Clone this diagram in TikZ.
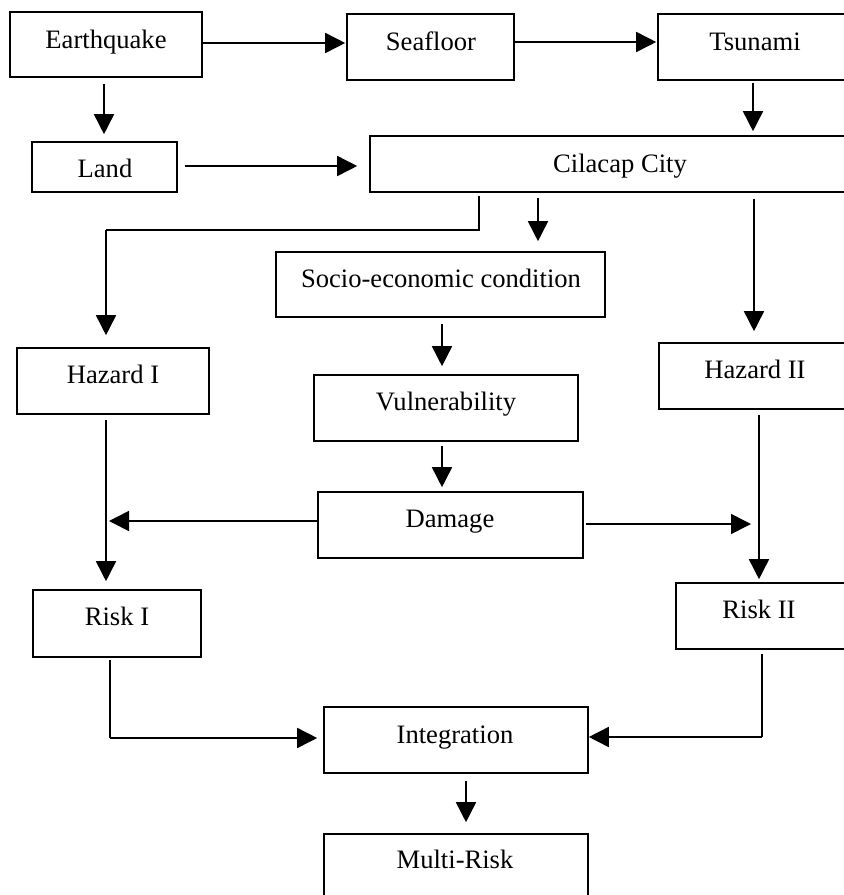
\documentclass[tikz,border=0pt]{standalone}
\usepackage{fontspec}
\setmainfont{Liberation Serif}
\usetikzlibrary{arrows.meta,fit}
\begin{document}
\begin{tikzpicture}[x=0.5pt,y=-0.5pt,
  box/.style={draw=black,line width=0.8pt,inner sep=0pt,fill=none},
  txt/.style={anchor=base,inner sep=0pt,font=\fontsize{13.3pt}{16pt}\selectfont},
  arr/.style={draw=black,line width=0.8pt,-{Triangle[length=10pt,width=10pt]}},
  ln/.style={draw=black,line width=0.8pt}]
\useasboundingbox (0,0) rectangle (843,895);
% boxes
\node[box,fit={(10,12) (202,77)}] (eq) {};
\node[box,fit={(347,14) (514,80)}] (sea) {};
\node[box,fit={(658,14) (848,80)}] (tsu) {};
\node[box,fit={(32,142) (177,192)}] (land) {};
\node[box,fit={(370,136) (870,192)}] (city) {};
\node[box,fit={(276,252) (605,317)}] (socio) {};
\node[box,fit={(17,348) (209,414)}] (haz1) {};
\node[box,fit={(659,343) (870,409)}] (haz2) {};
\node[box,fit={(314,375) (578,441)}] (vul) {};
\node[box,fit={(318,492) (583,558)}] (dam) {};
\node[box,fit={(33,590) (201,657)}] (risk1) {};
\node[box,fit={(676,583) (870,649)}] (risk2) {};
\node[box,fit={(324,707) (588,773)}] (integ) {};
\node[box,fit={(324,834) (588,910)}] (multi) {};
% texts
\node[txt] (teq) at (106,48) {Earthquake};
\node[txt] (tsea) at (431,50) {Seafloor};
\node[txt] (ttsu) at (755,50) {Tsunami};
\node[txt] (tland) at (105,177) {Land};
\node[txt] (tcity) at (620,172) {Cilacap City};
\node[txt] (tsocio) at (441,287) {Socio-economic condition};
\node[txt] (thaz1) at (113,383) {Hazard I};
\node[txt] (thaz2) at (755,378) {Hazard II};
\node[txt] (tvul) at (446,410) {Vulnerability};
\node[txt] (tdam) at (450,527) {Damage};
\node[txt] (trisk1) at (117,625) {Risk I};
\node[txt] (trisk2) at (759,618) {Risk II};
\node[txt] (tinteg) at (455,743) {Integration};
\node[txt] (tmulti) at (455,868) {Multi-Risk};
% helper coordinates
\coordinate (k1) at (479,230);
\coordinate (k2) at (106,230);
\coordinate (k3) at (110,738);
\coordinate (k4) at (762,737);
\coordinate (m1) at (106,521);
\coordinate (m2) at (759,524);
% connectors
\draw[arr,shorten >=0.5pt] (eq.east |- 0,43) -- (sea.west |- 0,43);
\draw[arr,shorten >=0.5pt] (sea.east |- 0,42) -- (tsu.west |- 0,42);
\draw[arr,shorten <=3pt,shorten >=3.5pt] (eq.south -| 104,0) -- (land.north -| 104,0);
\draw[arr,shorten <=3.5pt,shorten >=6pt] (land.east |- 0,166) -- (city.west |- 0,166);
\draw[arr,shorten <=1pt,shorten >=2pt] (tsu.south -| 753,0) -- (city.north -| 753,0);
\draw[ln,shorten <=1.5pt] (city.south -| k1) -- (k1) -- (k2);
\draw[arr,shorten >=6pt] (k2) -- (haz1.north -| k2);
\draw[arr,shorten <=2.5pt,shorten >=5pt] (city.south -| 538,0) -- (socio.north -| 538,0);
\draw[arr,shorten <=3pt,shorten >=5.5pt] (city.south -| 754,0) -- (haz2.north -| 754,0);
\draw[arr,shorten <=3pt,shorten >=4pt] (socio.south -| 442,0) -- (vul.north -| 442,0);
\draw[arr,shorten <=2pt,shorten >=2pt] (vul.south -| 442,0) -- (dam.north -| 442,0);
\draw[arr,shorten <=2.5pt,shorten >=4pt] (haz1.south -| 106,0) -- (risk1.north -| 106,0);
\draw[arr,shorten <=2.5pt,shorten >=1.5pt] (haz2.south -| 759,0) -- (risk2.north -| 759,0);
\draw[arr,shorten >=1.5pt] (dam.west |- m1) -- (m1);
\draw[arr,shorten <=1pt,shorten >=4pt] (dam.east |- m2) -- (m2);
\draw[ln,shorten <=1pt] (risk1.south -| k3) -- (k3);
\draw[arr,shorten >=3pt] (k3) -- (integ.west |- k3);
\draw[ln,shorten <=2pt] (risk2.south -| k4) -- (k4);
\draw[arr] (k4) -- (integ.east |- k4);
\draw[arr,shorten <=3.5pt,shorten >=5.5pt] (integ.south -| 466,0) -- (multi.north -| 466,0);
\end{tikzpicture}
\end{document}
